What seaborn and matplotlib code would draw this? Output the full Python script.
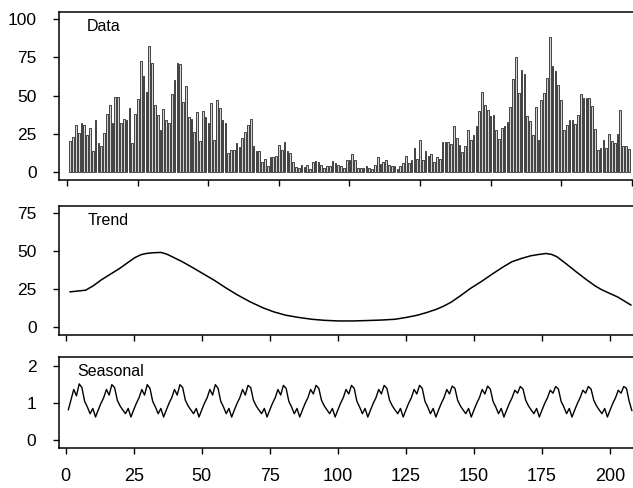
import matplotlib
matplotlib.use("Agg")
import matplotlib.pyplot as plt
import seaborn as sns

# ---------------- data ----------------
data_values = [
    20.5, 23, 30.5, 25.5, 32, 31, 24, 29, 14, 34,
    19, 17, 25.5, 38, 44, 32, 49, 49, 32, 34.6,
    34, 42, 19, 38, 48, 73, 63, 52.7, 82.6, 71.7,
    44, 37.5, 27.7, 41, 34, 32, 51, 60, 71.7, 70.6,
    46, 56.4, 36, 34.6, 26, 39, 20, 40, 36, 32,
    45, 21, 47, 42, 34, 32, 12.4, 14.6, 14.6, 19,
    16, 22, 26, 31, 35, 17, 14, 14, 6.5, 8.7,
    3.7, 9.6, 9.6, 10.7, 17.4, 14.6, 19.4, 13.5, 12.4, 6.3,
    3, 2.6, 4.4, 3, 4.4, 2, 6.5, 7, 6.5, 4.8,
    2.6, 3.7,
    3.7, 7, 5.9, 4.8, 3.7, 2.6, 7.6, 7.6, 12, 7.6,
    2.6, 2.6, 2.6, 3.7, 2.6, 2.2, 4.8, 9.8, 5.4, 6.5,
    7.6, 4.8, 3.7, 3.7, 2.2, 3.7, 5.9, 10.7, 5.9, 7.6,
    15.7, 8.7, 20.7, 7.6, 13.5, 10.7, 11.8, 6.5, 9.6, 8.5,
    19.6, 19.6, 19.6, 18.5, 29.8, 22.2, 17.4, 13, 16.8, 27.7,
    21, 24, 29.8, 39.6, 52.3, 44, 40.7, 36.4, 37.5, 27.7,
    21.6, 28.8, 30.3, 32.5, 42.5, 60.8, 75.2, 51.6, 66.9, 64.3,
    36.4, 33.6, 24.4, 42.3, 21, 47.3, 51.6, 61.4, 88.7, 69.5,
    66.4, 57, 47.3, 27.2, 30.9, 33.8, 33.8, 31.4, 37.5, 51.2,
    48.4, 48.4, 48.4, 43.4, 28.1, 14.6, 15.7, 20.7, 15.7, 25.1,
    20, 19, 24.8, 40.3, 17.2, 17.2, 15.3,
]
data_index = list(range(1, len(data_values) + 1))

trend_x = [1.4, 7.2, 10, 12.8, 16, 19.7, 22.5, 25.2, 27.5, 29.4,
           32, 34.9, 37, 39.1, 42.5, 46, 50, 54.4, 58.5, 62.7,
           67.5, 72.4, 76.5, 80.7, 85.5, 90.4, 95, 100.1, 105.5, 111.2,
           116, 120.9, 125, 129.2, 132.7, 136.2, 139, 141.7, 145, 148.6,
           153, 157, 160.5, 163.9, 167.5, 170.8, 173.5, 176.4, 178.5, 180.5,
           184, 187.5, 191, 194.4, 196.5, 198.6, 200.7, 202.7, 205.2, 207.7]
trend_y = [23, 24.1, 27, 30.7, 34.3, 38.4, 42, 45.4, 47.4, 48.2,
           48.7, 48.9, 47.8, 46, 43, 39.5, 35.3, 30.7, 25.9, 21.3,
           16.6, 12.5, 9.8, 7.7, 6.2, 5, 4.3, 3.9, 3.9, 4.2,
           4.5, 5, 6.2, 7.7, 9.5, 11.6, 13.8, 16.4, 20.5, 25.2,
           30.2, 35.1, 39.2, 42.8, 45, 46.7, 47.5, 48.2, 47.6, 46,
           41.2, 36.2, 31.4, 27, 24.8, 23, 21.3, 19.7, 17, 14.3]

seasonal_values = [
    0.82, 1.10, 1.37, 1.20, 1.52,
    1.42, 1.05, 0.90, 0.72, 0.86, 0.63, 0.82, 1.00, 1.15, 1.37, 1.22, 1.50,
    1.42, 1.08, 0.93, 0.82, 0.72, 0.86, 0.63, 0.82, 1.00, 1.15, 1.37, 1.22, 1.50,
    1.40, 1.05, 0.90, 0.72, 0.86, 0.63, 0.82, 1.00, 1.15, 1.37, 1.22, 1.50,
    1.42, 1.08, 0.93, 0.82, 0.72, 0.86, 0.63, 0.82, 1.00, 1.15, 1.37, 1.22, 1.50,
    1.40, 1.05, 0.90, 0.72, 0.86, 0.63, 0.82, 1.00, 1.15, 1.37, 1.22, 1.48,
    1.42, 1.08, 0.93, 0.82, 0.72, 0.86, 0.63, 0.82, 1.00, 1.15, 1.37, 1.22, 1.48,
    1.40, 1.05, 0.90, 0.72, 0.86, 0.63, 0.82, 1.00, 1.15, 1.37, 1.25, 1.48,
    1.40, 1.08, 0.93, 0.82, 0.72, 0.86, 0.63, 0.82, 1.00, 1.15, 1.37, 1.25, 1.48,
    1.40, 1.05, 0.90, 0.72, 0.86, 0.63, 0.82, 1.00, 1.15, 1.37, 1.25, 1.48,
    1.40, 1.08, 0.93, 0.82, 0.72, 0.86, 0.63, 0.82, 1.00, 1.15, 1.37, 1.25, 1.48,
    1.40, 1.05, 0.90, 0.72, 0.86, 0.63, 0.82, 1.00, 1.15, 1.37, 1.25, 1.46,
    1.40, 1.08, 0.93, 0.82, 0.72, 0.86, 0.63, 0.82, 1.00, 1.15, 1.37, 1.25, 1.46,
    1.38, 1.05, 0.90, 0.72, 0.86, 0.63, 0.82, 1.00, 1.15, 1.35, 1.27, 1.45,
    1.38, 1.08, 0.93, 0.82, 0.72, 0.86, 0.63, 0.82, 1.00, 1.15, 1.35, 1.27, 1.45,
    1.38, 1.05, 0.90, 0.72, 0.86, 0.63, 0.82, 1.00, 1.15, 1.35, 1.27, 1.45,
    1.38, 1.08, 0.93, 0.82, 0.72, 0.86, 0.63, 0.82, 1.00, 1.15, 1.35, 1.27, 1.45,
    1.40, 1.05, 0.80,
]
seasonal_index = list(range(1, len(seasonal_values) + 1))

x_ticks = [0, 25, 50, 75, 100, 125, 150, 175, 200]
data_yticks = [0, 25, 50, 75, 100]
trend_yticks = [0, 25, 50, 75]
seasonal_yticks = [0, 1, 2]
panel_titles = ["Data", "Trend", "Seasonal"]

# ---------------- styling ----------------
sns.set_theme(style="white")
plt.rcParams["font.family"] = ["Liberation Sans", "DejaVu Sans"]

W, H = 633, 488
fig = plt.figure(figsize=(W / 100, H / 100), dpi=100)


def box(left, top, right, bottom):
    return [left / W, 1 - bottom / H, (right - left) / W, (bottom - top) / H]


ax1 = fig.add_axes(box(59.2, 11.7, 633, 180))
ax2 = fig.add_axes(box(59.0, 205.7, 633, 334.5))
ax3 = fig.add_axes(box(58.5, 356.7, 633, 448.3))

sns.barplot(x=data_index, y=data_values, native_scale=True, width=0.6,
            color="#d4d4d4", saturation=1, edgecolor="black", linewidth=0.5,
            errorbar=None, ax=ax1)
sns.lineplot(x=trend_x, y=trend_y, color="black", linewidth=1.1, ax=ax2)
sns.lineplot(x=seasonal_index, y=seasonal_values, color="black", linewidth=1.0, ax=ax3)

ax1.set_xlim(-2.9, 200.5)
ax1.set_ylim(-5.3, 105)
ax2.set_xlim(-2.6, 208.4)
ax2.set_ylim(-5, 79.6)
ax3.set_xlim(-2.6, 208.4)
ax3.set_ylim(-0.21, 2.25)

for ax, yt, title, toff in [(ax1, data_yticks, panel_titles[0], 28),
                            (ax2, trend_yticks, panel_titles[1], 29),
                            (ax3, seasonal_yticks, panel_titles[2], 19)]:
    ax.set_xticks(x_ticks)
    ax.set_yticks(yt)
    ax.set_xlabel("")
    ax.set_ylabel("")
    for s in ["top", "left", "bottom"]:
        ax.spines[s].set_visible(True)
        ax.spines[s].set_color("black")
        ax.spines[s].set_linewidth(1.1)
    ax.spines["right"].set_visible(False)
    ax.tick_params(axis="both", direction="out", length=4, width=1,
                   color="black", labelcolor="black")
    ax.tick_params(axis="y", labelsize=12.5, pad=12, left=True)
    ax.tick_params(axis="x", labelsize=13, pad=10, bottom=True)
    ax.annotate(title, xy=(0, 1), xycoords="axes fraction",
                xytext=(toff * 0.72, -7 * 0.72), textcoords="offset points",
                ha="left", va="top", fontsize=11.5, color="black")

ax1.tick_params(axis="x", labelbottom=False)
ax2.tick_params(axis="x", labelbottom=False)

fig.savefig("out.png", dpi=100)
